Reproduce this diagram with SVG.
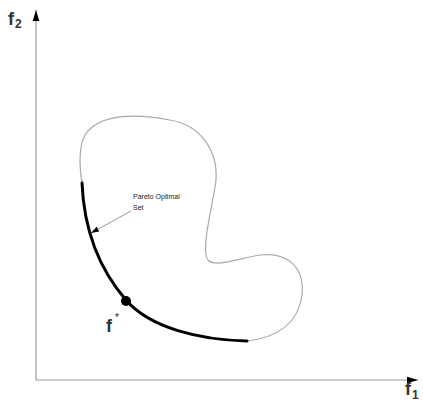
<svg xmlns="http://www.w3.org/2000/svg" width="423" height="409" viewBox="0 0 423 409">
<style>
.axis{stroke:#999;stroke-width:1.2;fill:none}
.thin{stroke:#aaa;stroke-width:1.2;fill:none}
.thick{stroke:#000;stroke-width:3;fill:none;stroke-linecap:round}
.lbl{font-family:"Liberation Sans",Arial,sans-serif;fill:#222}
.big{font-weight:bold;fill:#333}
</style>
<defs>
<marker id="ah" viewBox="0 0 10 10" refX="10" refY="5" markerWidth="8" markerHeight="8" orient="auto" markerUnits="userSpaceOnUse"><path d="M0,1.5 L10,5 L0,8.5 Z" fill="#000"/></marker>
<marker id="ax" viewBox="0 0 10 10" refX="10" refY="5" markerWidth="11" markerHeight="11" orient="auto" markerUnits="userSpaceOnUse"><path d="M0,2 L10,5 L0,8 Z" fill="#000"/></marker>
</defs>
<g id="connectors">
<line class="axis" x1="36" y1="380" x2="36" y2="10" marker-end="url(#ax)"/>
<line class="axis" x1="36" y1="380" x2="418" y2="380" marker-end="url(#ax)"/>
<line x1="131" y1="211" x2="91" y2="233" stroke="#999" stroke-width="1" marker-end="url(#ah)"/>
</g>
<g id="region">
<path class="thin" d="M247,341 C275,338 298,325 302,295 C305,265 285,252 260,255 C240,258 215,268 208,260 C200,250 214,200 216,180 C218,150 200,125 170,120 C140,114 100,112 85,135 C78,148 80,170 82,183"/>
</g>
<g id="pareto">
<path class="thick" d="M82,183 C84,230 100,270 126,300 C150,328 200,340 247,341"/>
<circle cx="126" cy="301" r="5" fill="#000"/>
</g>
<g id="labels">
<text class="lbl" x="133" y="199" font-size="7">Pareto Optimal</text>
<text class="lbl" x="133" y="210" font-size="7">Set</text>
<text class="lbl big" x="106" y="332" font-size="18">f</text>
<text class="lbl" x="115" y="321" font-size="10">*</text>
<text class="lbl big" x="8" y="25" font-size="18">f</text>
<text class="lbl big" x="15" y="28" font-size="12">2</text>
<text class="lbl big" x="405" y="395" font-size="18">f</text>
<text class="lbl big" x="412" y="399" font-size="12">1</text>
</g>
</svg>
